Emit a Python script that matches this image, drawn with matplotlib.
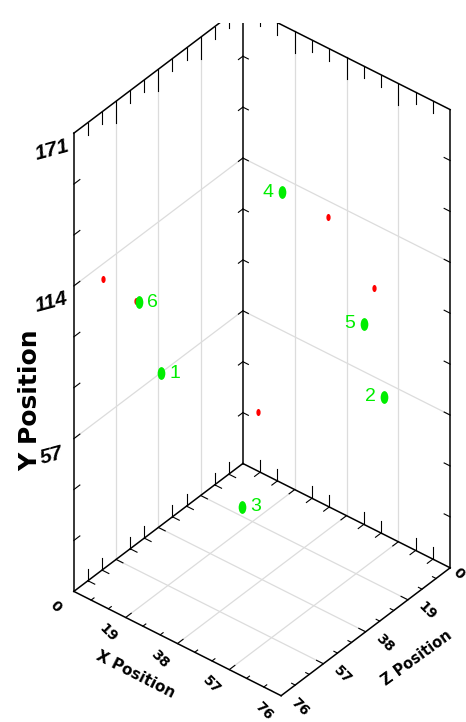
import numpy as np
import matplotlib
matplotlib.use("Agg")
import matplotlib.pyplot as plt
from matplotlib import font_manager
from matplotlib.path import Path
from matplotlib.transforms import Affine2D
from mpl_toolkits.mplot3d import proj3d

# box ranges and tick labels
x_max, y_max, z_max = 76, 171, 76
x_ticks = [0, 19, 38, 57, 76]
z_ticks = [0, 19, 38, 57, 76]
y_ticks = [57, 114, 171]      # the 0 at the corner is shared with X
grid_xz = [19, 38, 57]
grid_y = [57, 114]

# labelled points (green)
pt_labels = ["1", "2", "3", "4", "5", "6"]
pt_x = [25.0, 68.1, 32.3, 30.6, 56.7, 10.0]
pt_y = [88.8, 72.4, 25.6, 129.4, 90.7, 102.3]
pt_z = [67.5, 20.0, 40.0, 20.0, 15.0, 59.0]
pt_side = [1, -1, 1, -1, -1, 1]   # label right (1) or left (-1) of the dot

# unlabelled points (red)
red_x = [3.0, 39.4, 54.6, 9.6, 8.0]
red_y = [112.1, 118.3, 98.6, 27.1, 101.0]
red_z = [66.6, 10.0, 8.0, 5.0, 57.9]

installed = {f.name for f in font_manager.fontManager.ttflist}
narrow = "Liberation Sans Narrow" if "Liberation Sans Narrow" in installed else "Liberation Sans"

W, H = 466, 722
fig = plt.figure(figsize=(W / 100, H / 100), dpi=100)
ax = fig.add_axes([0, 0, 1, W / H], projection="3d", proj_type="ortho",
                  computed_zorder=False)
ax.view_init(elev=38.1, azim=39.2)
ax.set_box_aspect((1, 1, 2.177))
# matplotlib x = Z, y = X, z = Y (vertical)
ax.set_xlim(0, z_max)
ax.set_ylim(0, x_max)
ax.set_zlim(0, y_max)
ax.set_axis_off()


def seg(p, q, **kw):
    # p, q given as (X, Y, Z) of the chart
    ax.plot([p[2], q[2]], [p[0], q[0]], [p[1], q[1]], **kw)


def flat(X, Y, Z):
    u, v, _ = proj3d.proj_transform(np.atleast_1d(np.asarray(Z, float)),
                                    np.atleast_1d(np.asarray(X, float)),
                                    np.atleast_1d(np.asarray(Y, float)), ax.get_proj())
    return u, v


def label(X, Y, Z, s, **kw):
    # screen-aligned text at a point of the box
    u, v = flat(X, Y, Z)
    ax.text2D(u[0], v[0], s, ha="center", va="center", transform=ax.transData,
              zorder=5, **kw)


# grid on the floor and the two walls
grid_kw = dict(color="#dcdcdc", lw=0.9, zorder=1)
for g in grid_xz:
    seg((g, 0, 0), (g, 0, z_max), **grid_kw)
    seg((0, 0, g), (x_max, 0, g), **grid_kw)
    seg((0, 0, g), (0, y_max, g), **grid_kw)
    seg((g, 0, 0), (g, y_max, 0), **grid_kw)
for g in grid_y:
    seg((0, g, 0), (0, g, z_max), **grid_kw)
    seg((0, g, 0), (x_max, g, 0), **grid_kw)

# box edges
edge_kw = dict(color="black", lw=1.1, zorder=2)
edges = [((0, 0, z_max), (x_max, 0, z_max)), ((x_max, 0, z_max), (x_max, 0, 0)),
         ((0, 0, z_max), (0, 0, 0)), ((0, 0, 0), (x_max, 0, 0)),
         ((0, 0, z_max), (0, y_max, z_max)), ((0, 0, 0), (0, y_max, 0)),
         ((x_max, 0, 0), (x_max, y_max, 0)), ((0, y_max, z_max), (0, y_max, 0)),
         ((0, y_max, 0), (x_max, y_max, 0))]
for p, q in edges:
    seg(p, q, **edge_kw)

# tick marks
tick_kw = dict(color="black", lw=0.8, zorder=2)
for t in np.arange(1, 12) * 19 / 3:
    major = abs(t / 19 - round(t / 19)) < 1e-6
    down = 8.2 if major else 4.5
    seg((0, y_max, t), (0, y_max - down, t), **tick_kw)
    seg((t, y_max, 0), (t, y_max - down, 0), **tick_kw)
    if not major:
        seg((0, 0, t), (0, 4.5, t), **tick_kw)
        seg((t, 0, 0), (t, 4.5, 0), **tick_kw)
    seg((0, 0, t), (2.5, 0, t), **tick_kw)
    seg((t, 0, 0), (t, 0, 2.5), **tick_kw)
    f = 2.5 if major else 1.3
    seg((t, 0, z_max), (t, 0, z_max - f), **tick_kw)
    seg((x_max, 0, t), (x_max - f, 0, t), **tick_kw)
for y in np.arange(19, y_max, 19):
    seg((0, y, z_max), (0, y, z_max - 2.7), **tick_kw)
    seg((0, y, 0), (2, y, 0), **tick_kw)
    seg((0, y, 0), (0, y, 2), **tick_kw)
    seg((x_max, y, 0), (x_max - 2.2, y, 0), **tick_kw)

# points
dot = Path.unit_circle().transformed(Affine2D().scale(0.6, 1.0))
ax.scatter(red_z, red_x, red_y, marker=dot, s=26, c="#ff0000", linewidths=0,
           depthshade=False, zorder=3)
ax.scatter(pt_z, pt_x, pt_y, marker=dot, s=85, c="#00ee00", linewidths=0,
           depthshade=False, zorder=4)

# tick labels and axis titles
for t in x_ticks:
    label(t, -0.8, 84, str(t), rotation=-45, fontsize=10, fontweight="bold")
for t in z_ticks:
    # the 0 sits at the right edge of the picture, keep it inside
    label(79 if t == 0 else 83, -0.5, t, str(t), rotation=-45, fontsize=10,
          fontweight="bold")
for t in y_ticks:
    label(0, t, 86, str(t), rotation=15, fontsize=15, family=narrow,
          fontweight="bold", fontstyle="italic")
label(0, 83.7, 95.8, "Y Position", rotation=90, fontsize=18, fontweight="bold")
label(38, 0, 94.7, "X Position", rotation=-27, fontsize=11, fontweight="bold")
label(94.9, 0, 38, "Z Position", rotation=36, fontsize=10.5, fontweight="bold")

# point numbers beside the green dots
u, v = flat(pt_x, pt_y, pt_z)
for s, uu, vv, sd in zip(pt_labels, u, v, pt_side):
    ax.annotate(s, (uu, vv), xytext=(14 * sd, 0), textcoords="offset pixels",
                ha="center", va="center", color="#00ee00", fontsize=14,
                family=narrow, zorder=5)

# place the box where the frame sits in the picture
frame_left, frame_right, frame_top, frame_bottom = 74, 450, 5, 696
box = ax.get_position().transformed(fig.transFigure)
u, v = flat([0, x_max, 0, x_max], [0, 0, y_max, 0], [z_max, 0, 0, z_max])
pix = ax.transData.transform(np.column_stack([u, v]))
rel = (pix - [box.x0, box.y0]) / box.width
side = ((frame_right - frame_left) / (rel[1, 0] - rel[0, 0])
        + (frame_bottom - frame_top) / (rel[2, 1] - rel[3, 1])) / 2
x0 = np.mean([frame_left - side * rel[0, 0], frame_right - side * rel[1, 0]])
y0 = np.mean([H - frame_top - side * rel[2, 1], H - frame_bottom - side * rel[3, 1]])
ax.set_position([x0 / W, y0 / H, side / W, side / H])

fig.savefig("out.png", dpi=100)
